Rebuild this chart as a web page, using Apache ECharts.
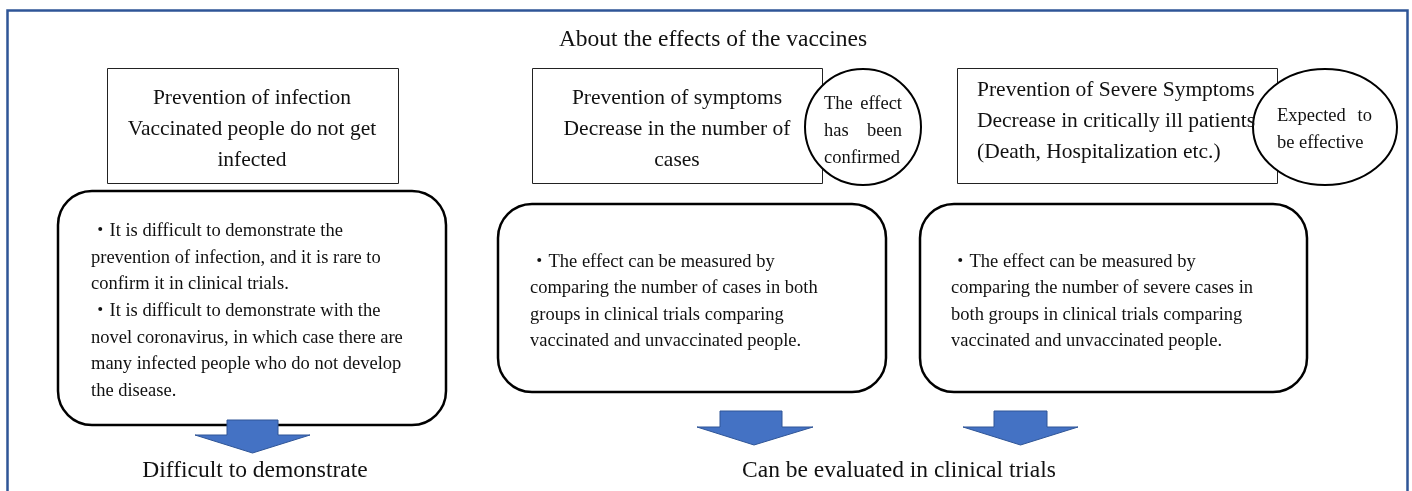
<!DOCTYPE html>
<html>
<head>
<meta charset="utf-8">
<script src="https://cdn.jsdelivr.net/npm/echarts@6/dist/echarts.min.js"></script>
<style>
html, body { margin: 0; padding: 0; background: #fff; }
#main { width: 1412px; height: 491px; }
</style>
</head>
<body>
<div id="main"></div>
<script>
// texts of the diagram
var title = 'About the effects of the vaccines';
var headerLines = [
    ['Prevention of infection', 'Vaccinated people do not get', 'infected'],
    ['Prevention of symptoms', 'Decrease in the number of', 'cases'],
    ['Prevention of Severe Symptoms', 'Decrease in critically ill patients', '(Death, Hospitalization etc.)']
];
// badge lines, two words = justified line
var badgeLines = [
    [['The', 'effect'], ['has', 'been'], ['confirmed']],
    [['Expected', 'to'], ['be effective']]
];
var detailLines = [
    ['・It is difficult to demonstrate the', 'prevention of infection, and it is rare to', 'confirm it in clinical trials.',
     '・It is difficult to demonstrate with the', 'novel coronavirus, in which case there are',
     'many infected people who do not develop', 'the disease.'],
    ['・The effect can be measured by', 'comparing the number of cases in both',
     'groups in clinical trials comparing', 'vaccinated and unvaccinated people.'],
    ['・The effect can be measured by', 'comparing the number of severe cases in',
     'both groups in clinical trials comparing', 'vaccinated and unvaccinated people.']
];
var footers = ['Difficult to demonstrate', 'Can be evaluated in clinical trials'];

var FONT = '"Liberation Serif", "Times New Roman", "Noto Sans CJK JP", serif';
var BLUE = '#4472C4', BLUE_DARK = '#2F5597';

function txt(s, x, y, size, align){
    return {
        type: 'text', z: 10,
        style: {
            text: s, x: x, y: y, fill: '#111',
            font: size + 'px ' + FONT,
            textAlign: align || 'center', textVerticalAlign: 'middle'
        }
    };
}

// block of lines, one step apart
function lines(arr, x, y0, step, size, align){
    return arr.map(function(s, i){ return txt(s, x, y0 + i * step, size, align); });
}

// justified lines for the round badges
function badge(arr, x0, x1, y0, step, size){
    var out = [];
    arr.forEach(function(words, i){
        var y = y0 + i * step;
        if(words.length == 2){
            out.push(txt(words[0], x0, y, size, 'left'));
            out.push(txt(words[1], x1, y, size, 'right'));
        }else{
            out.push(txt(words[0], x0, y, size, 'left'));
        }
    });
    return out;
}

function arrow(shaftL, shaftR, top, headTop, headL, headR, tipX, tipY){
    return {
        type: 'polygon', z: 8,
        shape: { points: [[shaftL, top], [shaftR, top], [shaftR, headTop], [headR, headTop],
                          [tipX, tipY], [headL, headTop], [shaftL, headTop]] },
        style: { fill: BLUE, stroke: BLUE_DARK, lineWidth: 1 }
    };
}

var elements = [];

// outer frame
elements.push({
    type: 'rect', z: 1,
    shape: { x: 7.5, y: 10.5, width: 1400, height: 500 },
    style: { fill: '#fff', stroke: BLUE_DARK, lineWidth: 2.5 }
});

elements.push(txt(title, 713, 40, 23.5));

// header boxes
var boxes = [[107, 68, 291, 115], [532, 68, 290, 115], [957, 68, 320, 115]];
boxes.forEach(function(b){
    elements.push({
        type: 'rect', z: 2,
        shape: { x: b[0] + 0.5, y: b[1] + 0.5, width: b[2], height: b[3] },
        style: { fill: '#fff', stroke: '#222', lineWidth: 1 }
    });
});
elements = elements.concat(lines(headerLines[0], 252, 98, 31, 21.5));
elements = elements.concat(lines(headerLines[1], 677, 98, 31, 21.5));
elements = elements.concat(lines(headerLines[2], 977, 90, 31, 21.5, 'left'));

// badges
elements.push({
    type: 'circle', z: 3,
    shape: { cx: 863, cy: 127, r: 58 },
    style: { fill: '#fff', stroke: '#000', lineWidth: 2 }
});
elements.push({
    type: 'ellipse', z: 3,
    shape: { cx: 1325, cy: 127, rx: 72, ry: 58 },
    style: { fill: '#fff', stroke: '#000', lineWidth: 2 }
});
elements = elements.concat(badge(badgeLines[0], 824, 902, 104, 27, 18.5));
elements = elements.concat(badge(badgeLines[1], 1277, 1372, 116, 27, 18.5));

// rounded detail boxes
var panels = [[58, 191, 388, 234], [498, 204, 388, 188], [920, 204, 387, 188]];
panels.forEach(function(p){
    elements.push({
        type: 'rect', z: 4,
        shape: { x: p[0], y: p[1], width: p[2], height: p[3], r: 34 },
        style: { fill: '#fff', stroke: '#000', lineWidth: 2.5 }
    });
});
elements = elements.concat(lines(detailLines[0], 91, 231, 26.7, 18.5, 'left'));
elements = elements.concat(lines(detailLines[1], 530, 262, 26.5, 18.5, 'left'));
elements = elements.concat(lines(detailLines[2], 951, 262, 26.5, 18.5, 'left'));

// arrows
elements.push(arrow(227, 278, 420, 435, 195, 310, 252.5, 453));
elements.push(arrow(720, 782, 411, 427, 697, 813, 754, 445));
elements.push(arrow(994, 1047, 411, 427, 963, 1078, 1020.5, 445));

elements.push(txt(footers[0], 255, 471, 23.5));
elements.push(txt(footers[1], 899, 471, 23.5));

var chart = echarts.init(document.getElementById('main'), null, { renderer: 'canvas' });
chart.setOption({
    backgroundColor: '#fff',
    animation: false,
    graphic: { elements: elements }
});
window.addEventListener('resize', function(){ chart.resize(); });
</script>
</body>
</html>
